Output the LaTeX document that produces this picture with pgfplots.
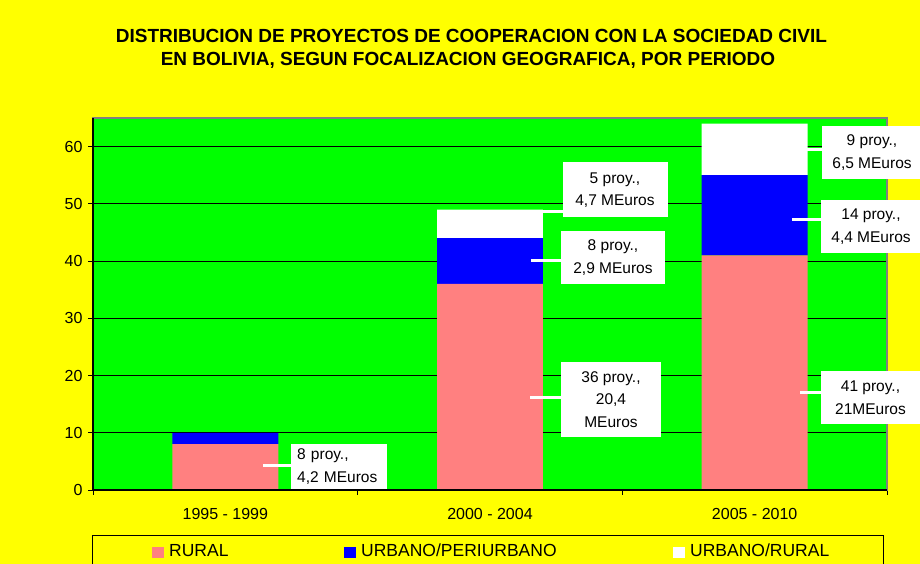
\documentclass[border=0pt]{standalone}
\usepackage{fontspec}
\setmainfont{Liberation Sans}
\usepackage{pgfplots}
\pgfplotsset{compat=1.18}
\definecolor{bgyellow}{RGB}{255,255,0}
\definecolor{plotgreen}{RGB}{0,255,0}
\definecolor{rural}{RGB}{255,128,128}
\definecolor{urbperi}{RGB}{0,0,255}
\newcommand{\lblfont}{\fontsize{15.5bp}{22.5bp}\selectfont}
\newcommand{\tckfont}{\fontsize{16bp}{19bp}\selectfont}
\newcommand{\legfont}{\fontsize{17.5bp}{20bp}\selectfont}
\newcommand{\ttlfont}{\fontsize{19bp}{23bp}\selectfont\bfseries}
\begin{document}
\begin{tikzpicture}[x=1bp,y=1bp]
\fill[bgyellow] (0,0) rectangle (920,564);
\begin{axis}[
 at={(93bp,74bp)}, anchor=south west,
 scale only axis, width=794bp, height=372bp,
 xmin=-0.5, xmax=2.5, ymin=0, ymax=65,
 ybar stacked, bar width=0.4,
 axis background/.style={fill=plotgreen},
 axis line style={draw=gray, line width=1.2bp},
 xtick={-0.5,0.5,1.5,2.5},
 x tick label as interval,
 xticklabels={1995 - 1999, 2000 - 2004, 2005 - 2010},
 ytick={0,10,...,60},
 tick pos=left,
 tick align=outside,
 major tick length=5bp,
 tick style={black, line width=0.8bp},
 ymajorgrids, major grid style={black, line width=0.8bp},
 tick label style={font=\tckfont},
 xticklabel style={yshift=-10bp},
 yticklabel style={xshift=-2bp},
 /pgf/number format/assume math mode=true,
 clip=false,
]
\addplot[fill=rural, draw=none] coordinates {(0,8) (1,36) (2,41)};
\addplot[fill=urbperi, draw=none] coordinates {(0,2) (1,8) (2,14)};
\addplot[fill=white, draw=none] coordinates {(0,0) (1,5) (2,9)};
\end{axis}
\draw[black, line width=1.2bp] (93,446)--(93,74)--(887,74);
% title
\node[anchor=base, font=\ttlfont, inner sep=0] at (471.5,521.3) {DISTRIBUCION DE PROYECTOS DE COOPERACION CON LA SOCIEDAD CIVIL};
\node[anchor=base, font=\ttlfont, inner sep=0] at (468,498) {EN BOLIVIA, SEGUN FOCALIZACION GEOGRAFICA, POR PERIODO};
% leader lines
\begin{scope}[white, line width=3bp]
\draw (263,98)--(291,98);
\draw (538,352.3)--(563,352.3);
\draw (531,303)--(561,303);
\draw (530,166)--(561,166);
\draw (807,414)--(822,414);
\draw (792,344)--(821,344);
\draw (800,171)--(821,171);
\end{scope}
% label boxes
\begin{scope}[every node/.style={fill=white, font=\lblfont, inner sep=0pt}]
\node[anchor=west, text width=84bp, inner xsep=6bp, minimum height=45bp, align=left] at (291,97.5) {8 proy.,\\4,2 MEuros};
\node[minimum width=105bp, minimum height=55bp, align=center] at (615,374) {5 proy.,\\4,7 MEuros};
\node[minimum width=104bp, minimum height=53bp, align=center] at (613,306.5) {8 proy.,\\2,9 MEuros};
\node[minimum width=100bp, minimum height=75bp, align=center] at (611,164.5) {36 proy.,\\20,4\\MEuros};
\node[minimum width=100bp, minimum height=53bp, align=center] at (872,411.5) {9 proy.,\\6,5 MEuros};
\node[minimum width=100bp, minimum height=53bp, align=center] at (871,337.5) {14 proy.,\\4,4 MEuros};
\node[minimum width=99bp, minimum height=53bp, align=center] at (870.5,166.5) {41 proy.,\\21MEuros};
\end{scope}
% legend
\draw[black, line width=0.8bp] (92,-10) rectangle (883,29);
\fill[rural] (152,6.3) rectangle (164,17.3);
\node[anchor=base west, inner sep=0, font=\legfont] at (169,7.3) {RURAL};
\fill[urbperi] (344,6.3) rectangle (356,17.3);
\node[anchor=base west, inner sep=0, font=\legfont] at (361,7.3) {URBANO/PERIURBANO};
\fill[white] (673,6.3) rectangle (685,17.3);
\node[anchor=base west, inner sep=0, font=\legfont] at (690,7.3) {URBANO/RURAL};
\pgfresetboundingbox
\useasboundingbox (0,0) rectangle (920,564);
\end{tikzpicture}
\end{document}
